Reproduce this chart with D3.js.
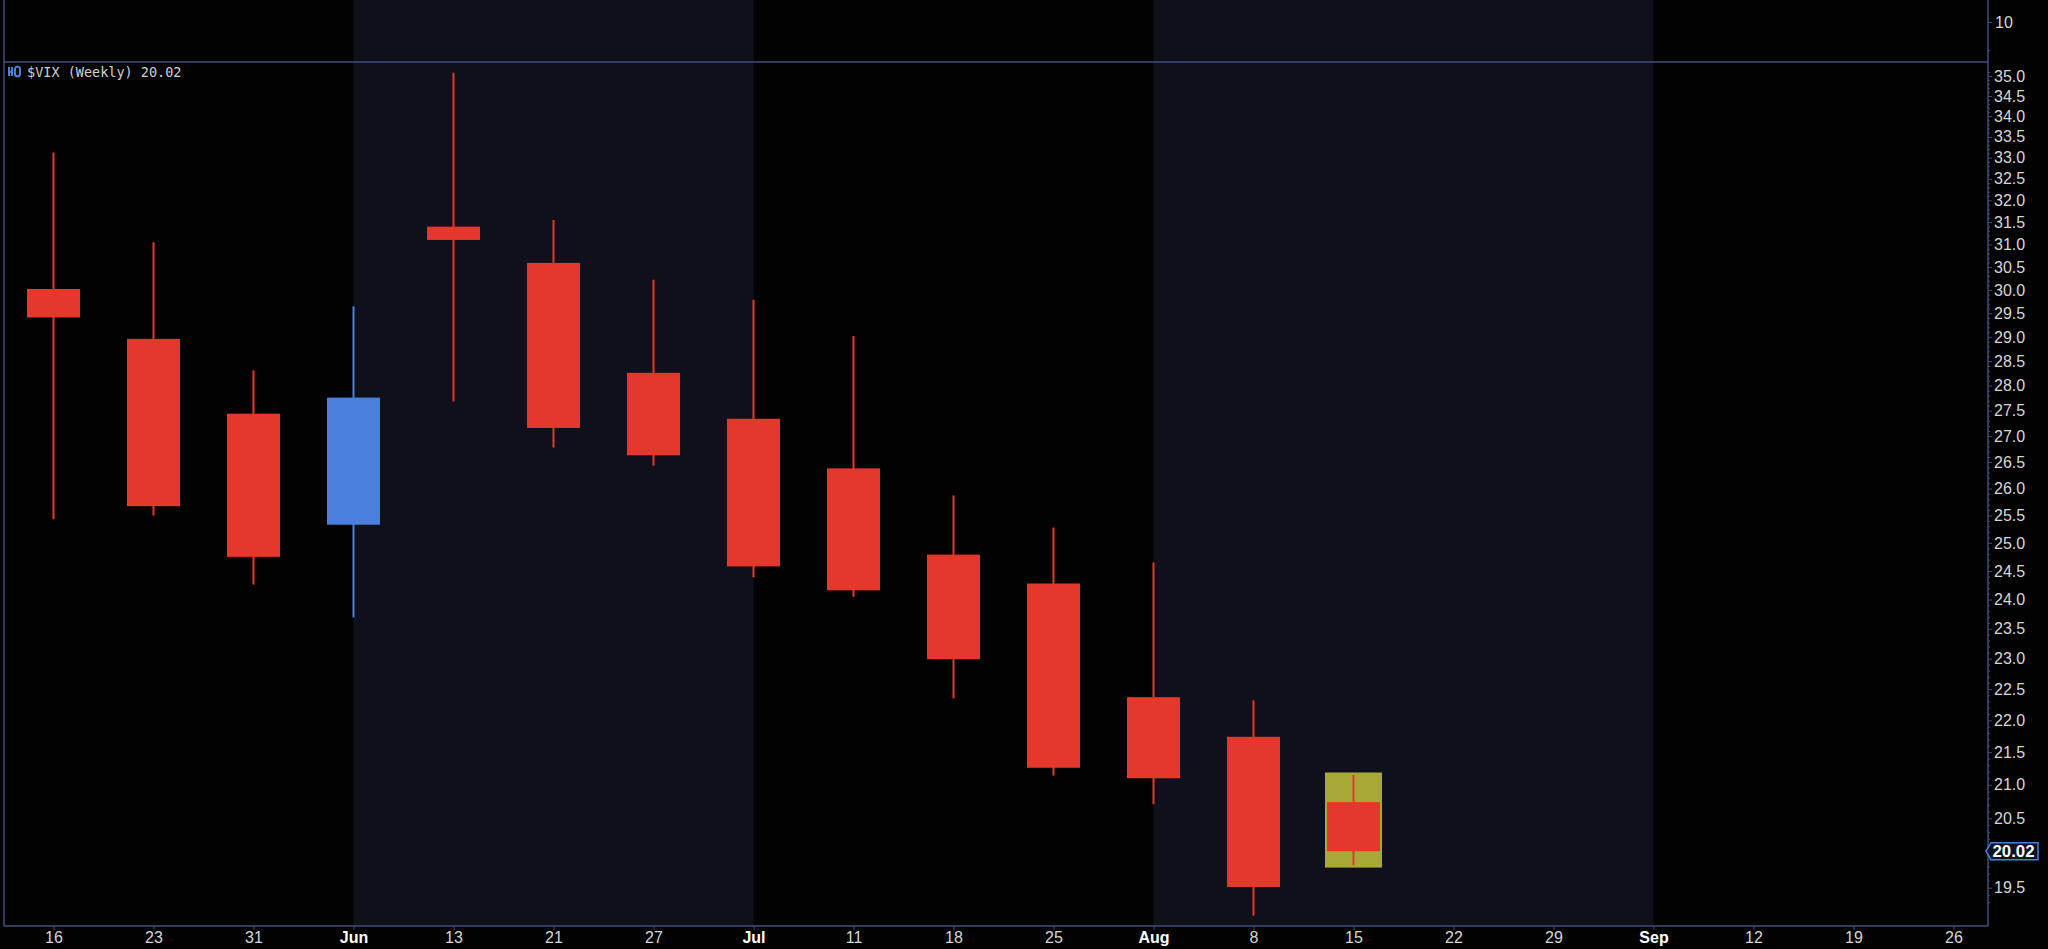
<!DOCTYPE html>
<html><head><meta charset="utf-8">
<script src="https://cdn.jsdelivr.net/npm/d3@7"></script>
<style>html,body{margin:0;padding:0;background:#020202;overflow:hidden}</style>
</head><body><svg id="c" width="2048" height="949"></svg>
<script>
// ---- data ----
const weekLabels = ["16","23","31","Jun","13","21","27","Jul","11","18","25","Aug","8","15","22","29","Sep","12","19","26"];
const monthLabels = ["Jun","Jul","Aug","Sep"];
const opens  = [30.02, 28.96, 27.44, 25.33, 31.40, 30.59, 28.26, 27.34, 26.38, 24.79, 24.28, 22.37, 21.74, 20.74];
const highs  = [33.12, 31.05, 28.31, 29.65, 35.08, 31.55, 30.22, 29.79, 29.02, 25.87, 25.28, 24.65, 22.32, 21.15];
const lows   = [25.43, 25.50, 24.26, 23.69, 27.68, 26.78, 26.43, 24.39, 24.05, 22.35, 21.14, 20.71, 19.11, 19.82];
const closes = [29.41, 25.67, 24.75, 27.76, 31.10, 27.16, 26.63, 24.58, 24.16, 22.99, 21.26, 21.10, 19.51, 20.02];
const yTickValues = d3.range(39, 71).map(d => d / 2);      // 19.5 .. 35.0
const hiddenTickLabels = [20.0];                             // covered by the last-value marker
const yMinorValues = d3.range(193, 352).map(d => d / 10).filter(v => Math.round(v*10) % 5 !== 0);
const shadedSpans = [[3, 7], [11, 16]];                     // June, August (by week index)
const lastValue = 20.02;
const topPanelTicks = [10];
const titleText = "$VIX (Weekly) 20.02";

// ---- layout ----
const W = 2048, H = 949;
const left = 4, right = 1988, panelTop = 62, bottom = 926;
const svg = d3.select("#c");
const x = d3.scaleLinear().domain([0, weekLabels.length - 1]).range([53.5, 1953.5]);
const y = d3.scaleLog().domain([35, 19.5]).range([76, 887.7]);
const yTop = d3.scaleLinear().domain([0, 20]).range([62, -18]);

const C = {bg:"#020202", shade:"#10101d", axis:"#3b5078", text:"#d6d6d6",
           red:"#e3382b", blue:"#4a7fdb", hl:"#a7a835"};

svg.append("rect").attr("width", W).attr("height", H).attr("fill", C.bg);

// shaded months
svg.append("g").selectAll("rect").data(shadedSpans).join("rect")
  .attr("x", d => x(d[0])).attr("y", 0)
  .attr("width", d => x(d[1]) - x(d[0])).attr("height", bottom)
  .attr("fill", C.shade);

// frame lines
const frame = svg.append("g").attr("stroke", C.axis).attr("stroke-width", 1.5);
frame.append("line").attr("x1", left).attr("x2", left).attr("y1", 0).attr("y2", bottom);
frame.append("line").attr("x1", left).attr("x2", right).attr("y1", panelTop).attr("y2", panelTop);

// candles
const idx = d3.range(opens.length);
const bodyW = 53;
const last = opens.length - 1;
svg.append("rect")
  .attr("x", x(last) - 28.5).attr("width", 57)
  .attr("y", y(highs[last]) - 2.5).attr("height", y(lows[last]) - y(highs[last]) + 5)
  .attr("fill", C.hl);
const cg = svg.append("g");
cg.selectAll("line").data(idx).join("line")
  .attr("x1", i => x(i)).attr("x2", i => x(i))
  .attr("y1", i => y(highs[i])).attr("y2", i => y(lows[i]))
  .attr("stroke", i => closes[i] >= opens[i] ? C.blue : C.red).attr("stroke-width", 2);
cg.selectAll("rect").data(idx).join("rect")
  .attr("x", i => x(i) - bodyW / 2).attr("width", bodyW)
  .attr("y", i => y(Math.max(opens[i], closes[i])))
  .attr("height", i => Math.max(2, y(Math.min(opens[i], closes[i])) - y(Math.max(opens[i], closes[i]))))
  .attr("fill", i => closes[i] >= opens[i] ? C.blue : C.red);

// y axis (main)
const fmt = d3.format(".1f");
const yAxis = svg.append("g").attr("transform", `translate(${right},0)`)
  .call(d3.axisRight(y).tickValues(yTickValues).tickSize(4)
    .tickFormat(v => hiddenTickLabels.includes(v) ? "" : fmt(v)));
svg.append("g").attr("transform", `translate(${right},0)`)
  .call(d3.axisRight(y).tickValues(yMinorValues).tickSize(2).tickFormat(""))
  .call(g => g.select(".domain").remove());
// y axis (top panel)
const yTopAxis = svg.append("g").attr("transform", `translate(${right},0)`)
  .call(d3.axisRight(yTop).tickValues(topPanelTicks).tickSize(4).tickFormat(d3.format("d")));
svg.append("g").attr("transform", `translate(${right},0)`)
  .call(d3.axisRight(yTop).tickValues([3, 17]).tickSize(2).tickFormat(""))
  .call(g => g.select(".domain").remove());

// x axis
const xAxis = svg.append("g").attr("transform", `translate(0,${bottom})`)
  .call(d3.axisBottom(x).tickValues(d3.range(weekLabels.length)).tickSize(4).tickFormat(i => weekLabels[i]));

// axis domain lines
svg.append("line").attr("x1", right).attr("x2", right).attr("y1", 0).attr("y2", bottom)
  .attr("stroke", C.axis).attr("stroke-width", 1.5);
svg.append("line").attr("x1", left).attr("x2", right).attr("y1", bottom).attr("y2", bottom)
  .attr("stroke", C.axis).attr("stroke-width", 1.5);

[yAxis, yTopAxis, xAxis].forEach(g => {
  g.select(".domain").remove();
  g.selectAll(".tick line").attr("stroke", C.axis);
  g.selectAll("text").attr("fill", C.text).attr("font-family", "Liberation Sans, Arial, sans-serif");
});
svg.selectAll(".tick line").attr("stroke", C.axis);
yAxis.selectAll("text").attr("font-size", 16).attr("x", 6);
yTopAxis.selectAll("text").attr("font-size", 16).attr("x", 7);
xAxis.selectAll("text").attr("font-size", 16).attr("dy", "0.6em")
  .attr("font-weight", function() { return monthLabels.includes(this.textContent) ? "bold" : "normal"; })
  .attr("fill", function() { return monthLabels.includes(this.textContent) ? "#ffffff" : C.text; });

// last value marker
const ly = y(lastValue);
const mk = svg.append("g");
mk.append("path")
  .attr("d", `M${right-2},${ly} L${right+3},${ly-8.5} L${2038},${ly-8.5} L${2038},${ly+8.5} L${right+3},${ly+8.5} Z`)
  .attr("fill", "#0d1424").attr("stroke", C.blue).attr("stroke-width", 1.5);
mk.append("text").attr("x", 2013.5).attr("y", ly).attr("dy", "0.36em").attr("text-anchor", "middle")
  .attr("font-family", "Liberation Sans, Arial, sans-serif").attr("font-size", 16).attr("font-weight", "bold")
  .attr("textLength", 42).attr("lengthAdjust", "spacingAndGlyphs")
  .attr("fill", "#ffffff").text(lastValue.toFixed(2));

// title / legend
const lg = svg.append("g").attr("transform", "translate(8,72)");
lg.append("path").attr("d", "M1,-5 L1,4 M4,-5 L4,4 M1,0 L4,0 M7,-4 L7,3 Q9.5,6 12,3 L12,-4 Q9.5,-7 7,-4")
  .attr("fill", "none").attr("stroke", C.blue).attr("stroke-width", 2);
lg.append("text").attr("x", 19).attr("dy", "0.35em")
  .attr("font-family", "DejaVu Sans Mono, monospace").attr("font-size", 13.5)
  .attr("fill", "#d0d0d0").text(titleText);
</script></body></html>
